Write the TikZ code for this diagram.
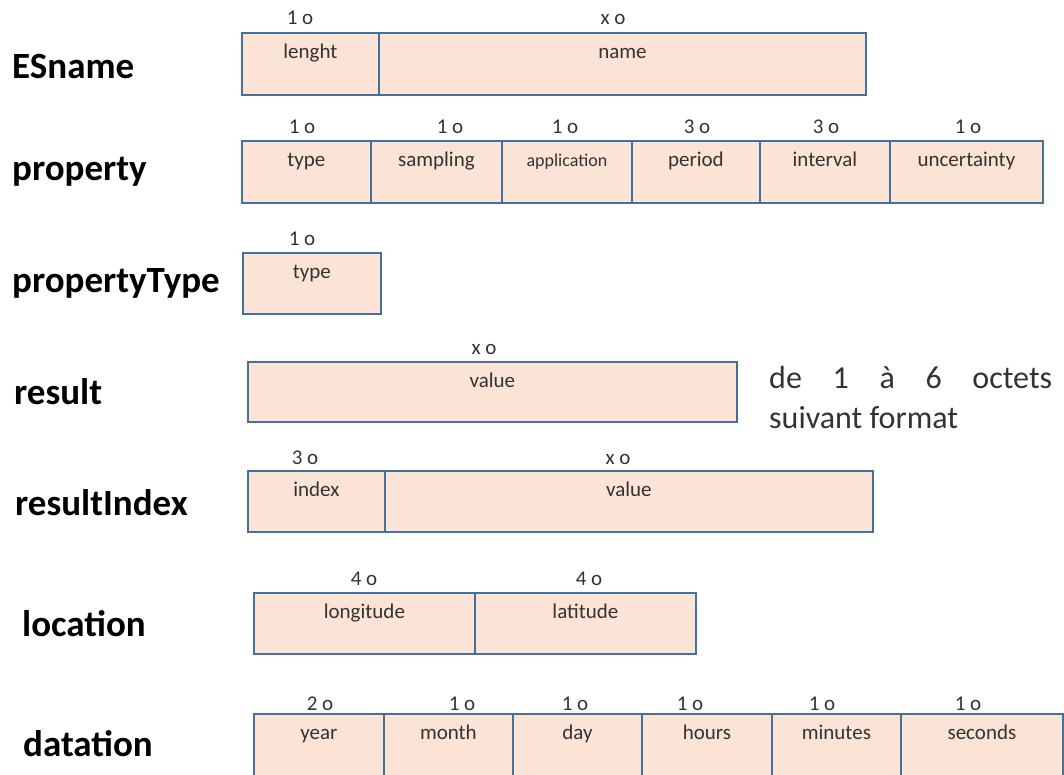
\documentclass[tikz,border=0pt]{standalone}
\usepackage{fontspec}
\setmainfont{Carlito}
\usetikzlibrary{calc}
\definecolor{peach}{HTML}{FBE3D5}
\definecolor{edge}{HTML}{41719C}
\definecolor{ink}{HTML}{333333}
\tikzset{
  fbox/.style={draw=edge, fill=peach, line width=1.8pt, rectangle, inner sep=0pt, anchor=north west},
  ftext/.style={anchor=base, inner sep=0pt, text=ink, font=\fontsize{21}{22}\selectfont},
  fsize/.style={anchor=base, inner sep=0pt, text=ink, font=\fontsize{21}{22}\selectfont},
  rowlabel/.style={anchor=base west, inner sep=0pt, font=\fontsize{37}{40}\selectfont\bfseries},
}
\newcommand{\fld}[7]{% name, x, top, width, height, text, extra font
  \node[fbox, minimum width=#4pt, minimum height=#5pt] (#1) at (#2,#3) {};
  \node[ftext, #7] (#1t) at ($(#1.north)+(0,26)$) {#6};
}
\begin{document}
\begin{tikzpicture}[x=1pt,y=-1pt]
\useasboundingbox (0,0) rectangle (1064,774);
\clip (0,0) rectangle (1064,774);
% row labels
\node[rowlabel] (lESname) at (12,78) {ESname};
\node[rowlabel] (lproperty) at (12,180) {property};
\node[rowlabel] (lpropertyType) at (12,292) {propertyType};
\node[rowlabel] (lresult) at (14,404) {result};
\node[rowlabel] (lresultIndex) at (15,515) {resultIndex};
\node[rowlabel] (llocation) at (22,636) {location};
\node[rowlabel] (ldatation) at (23,756) {datation};
% ESname
\fld{a1}{241}{32}{137}{62}{lenght}{}
\fld{a2}{378}{32}{487}{62}{name}{}
\node[fsize] (sa1) at (300,24) {1 o};
\node[fsize] (sa2) at (613,24) {x o};
% property
\fld{b1}{241}{140}{129}{62}{type}{}
\fld{b2}{370}{140}{131}{62}{sampling}{}
\fld{b3}{501}{140}{130}{62}{application}{font=\fontsize{18}{20}\selectfont}
\fld{b4}{631}{140}{128}{62}{period}{}
\fld{b5}{759}{140}{130}{62}{interval}{}
\fld{b6}{889}{140}{153}{62}{uncertainty}{}
\node[fsize] (sb1) at (302,133) {1 o};
\node[fsize] (sb2) at (450,133) {1 o};
\node[fsize] (sb3) at (565,133) {1 o};
\node[fsize] (sb4) at (697,133) {3 o};
\node[fsize] (sb5) at (826,133) {3 o};
\node[fsize] (sb6) at (968,133) {1 o};
% propertyType
\fld{c1}{242}{252}{138}{61}{type}{}
\node[fsize] (sc1) at (302,245) {1 o};
% result
\fld{d1}{247}{361}{489}{60}{value}{}
\node[fsize] (sd1) at (484,354) {x o};
\node[anchor=base west, inner sep=0pt, text=ink, font=\fontsize{32}{40}\selectfont] (dnote) at (769,388)
  {\makebox[283pt][l]{de\hfill 1\hfill à\hfill 6\hfill octets}};
\node[anchor=base west, inner sep=0pt, text=ink, font=\fontsize{32}{40}\selectfont] (dnote2) at (769,428) {suivant format};
% resultIndex
\fld{e1}{247}{470}{137}{61}{index}{}
\fld{e2}{384}{470}{488}{61}{value}{}
\node[fsize] (se1) at (305,464) {3 o};
\node[fsize] (se2) at (618,464) {x o};
% location
\fld{f1}{253}{592}{221}{61}{longitude}{}
\fld{f2}{474}{592}{221}{61}{latitude}{}
\node[fsize] (sf1) at (364,585) {4 o};
\node[fsize] (sf2) at (589,585) {4 o};
% datation
\fld{g1}{253}{713}{130}{80}{year}{}
\fld{g2}{383}{713}{129}{80}{month}{}
\fld{g3}{512}{713}{129}{80}{day}{}
\fld{g4}{641}{713}{130}{80}{hours}{}
\fld{g5}{771}{713}{129}{80}{minutes}{}
\fld{g6}{900}{713}{162}{80}{seconds}{}
\node[fsize] (sg1) at (320,710) {2 o};
\node[fsize] (sg2) at (462,710) {1 o};
\node[fsize] (sg3) at (575,710) {1 o};
\node[fsize] (sg4) at (690,710) {1 o};
\node[fsize] (sg5) at (822,710) {1 o};
\node[fsize] (sg6) at (968,710) {1 o};
\end{tikzpicture}
\end{document}
